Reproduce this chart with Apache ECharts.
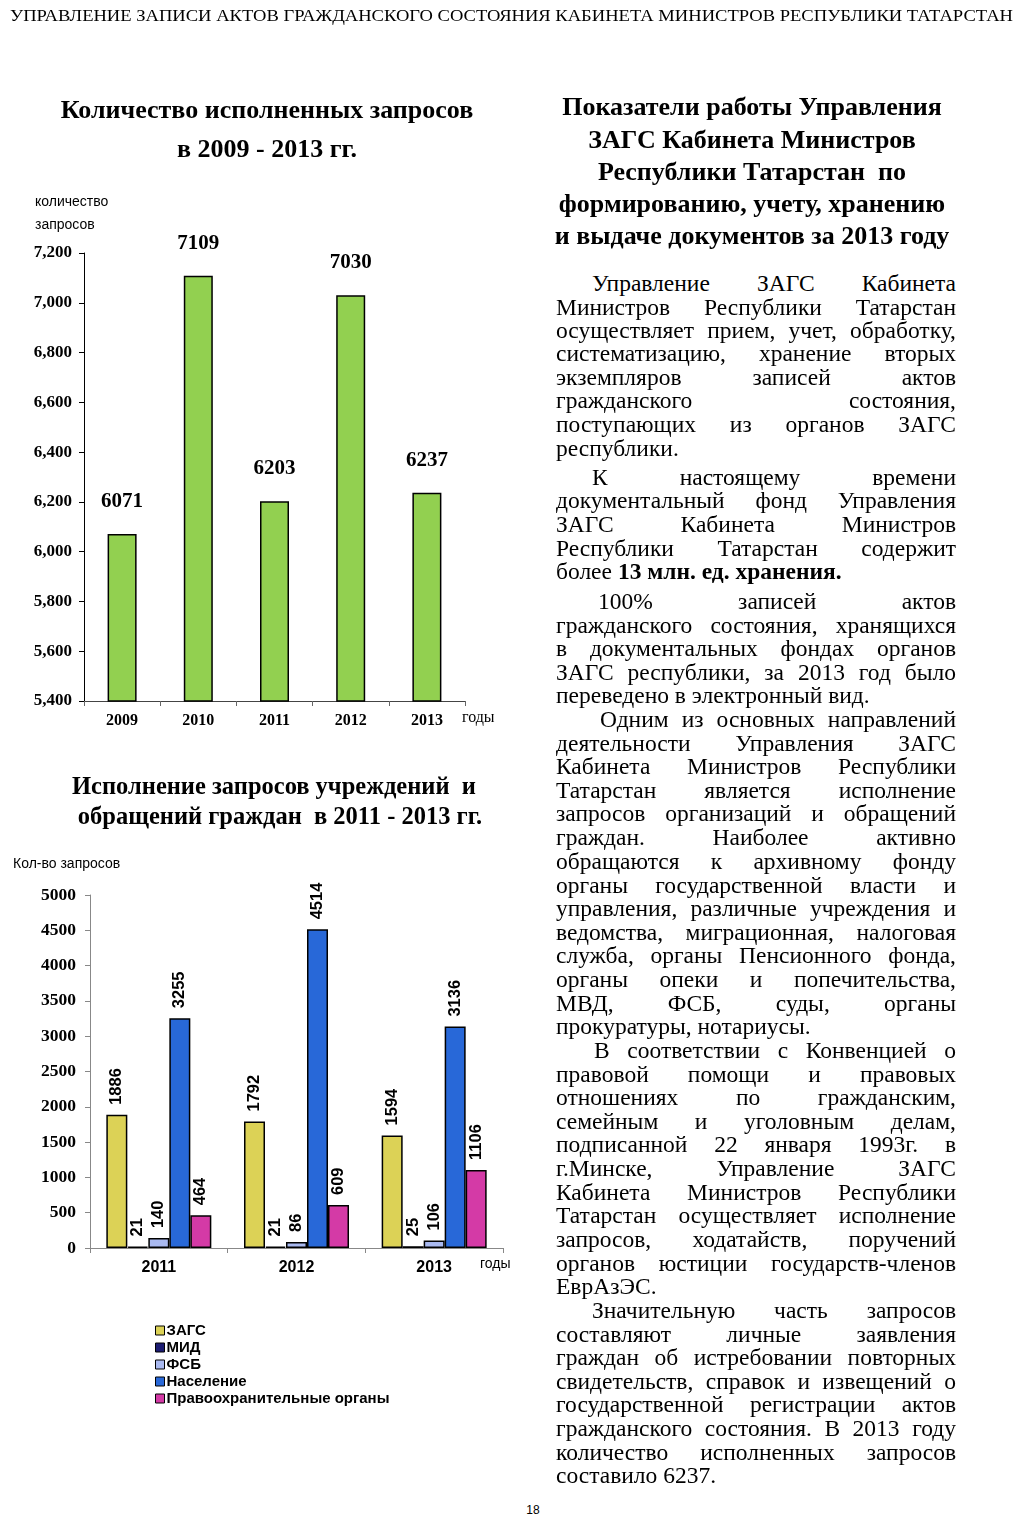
<!DOCTYPE html>
<html><head><meta charset="utf-8">
<script src="https://cdn.jsdelivr.net/npm/echarts@6.0.0/dist/echarts.min.js"></script>
<style>
html,body{margin:0;padding:0;background:#fff;}
body{width:1024px;height:1526px;position:relative;overflow:hidden;font-family:"Liberation Serif","Times New Roman",serif;color:#000;}
#chart{position:absolute;left:0;top:0;width:540px;height:1420px;}
.hd{position:absolute;width:600px;height:30px;line-height:30px;font-weight:bold;font-size:26px;text-align:center;white-space:nowrap;color:#000;}
.hd.s{font-size:24.5px;}
.ln{position:absolute;height:24px;line-height:24px;font-size:23.5px;white-space:nowrap;color:#000;}
#top{position:absolute;left:10px;top:5px;height:22px;line-height:22px;font-size:17px;white-space:nowrap;transform-origin:0 50%;color:#000;}
#pg{position:absolute;left:523px;top:1503px;width:20px;text-align:center;font-family:"Liberation Sans",Arial,sans-serif;font-size:12px;color:#000;}
</style></head>
<body>
<div id="chart"></div>
<div id="top">УПРАВЛЕНИЕ ЗАПИСИ АКТОВ ГРАЖДАНСКОГО СОСТОЯНИЯ КАБИНЕТА МИНИСТРОВ РЕСПУБЛИКИ ТАТАРСТАН</div>
<div id="pg">18</div>
<script>
// ---- chart data ----
const years1 = ['2009', '2010', '2011', '2012', '2013'];
const requests1 = [6071, 7109, 6203, 7030, 6237];

const years2 = ['2011', '2012', '2013'];
const zags = [1886, 1792, 1594];
const mid = [21, 21, 25];
const fsb = [140, 86, 106];
const population = [3255, 4514, 3136];
const lawEnf = [464, 609, 1106];
const seriesNames = ['ЗАГС', 'МИД', 'ФСБ', 'Население', 'Правоохранительные органы'];
const seriesColors = ['#DCD256', '#1C1C72', '#A9B9F0', '#2868D8', '#D43AA6'];

// ---- text ----
const headings = [
  [752, 107, 'Показатели работы Управления', ''],
  [752, 140, 'ЗАГС Кабинета Министров', ''],
  [752, 172, 'Республики Татарстан&nbsp; по', ''],
  [752, 204, 'формированию, учету, хранению', ''],
  [752, 236, 'и выдаче документов за 2013 году', ''],
  [267, 110, 'Количество исполненных запросов', ''],
  [267, 149, 'в 2009 - 2013 гг.', ''],
  [274, 786, 'Исполнение запросов учреждений&nbsp; и', 's'],
  [280, 816, 'обращений граждан&nbsp; в 2011 - 2013 гг.', 's']
];
const body = [
  [283, 'Управление ЗАГС Кабинета', 36, 1],
  [307, 'Министров Республики Татарстан', 0, 1],
  [330, 'осуществляет прием, учет, обработку,', 0, 1],
  [353, 'систематизацию, хранение вторых', 0, 1],
  [377, 'экземпляров записей актов', 0, 1],
  [400, 'гражданского состояния,', 0, 1],
  [424, 'поступающих из органов ЗАГС', 0, 1],
  [448, 'республики.', 0, 0],
  [477, 'К настоящему времени', 36, 1],
  [500, 'документальный фонд Управления', 0, 1],
  [524, 'ЗАГС Кабинета Министров', 0, 1],
  [548, 'Республики Татарстан содержит', 0, 1],
  [571, 'более <b>13 млн. ед. хранения.</b>', 0, 0],
  [601, '100% записей актов', 42, 1],
  [625, 'гражданского состояния, хранящихся', 0, 1],
  [648, 'в документальных фондах органов', 0, 1],
  [672, 'ЗАГС республики, за 2013 год было', 0, 1],
  [695, 'переведено в электронный вид.', 0, 0],
  [719, 'Одним из основных направлений', 44, 1],
  [743, 'деятельности Управления ЗАГС', 0, 1],
  [766, 'Кабинета Министров Республики', 0, 1],
  [790, 'Татарстан является исполнение', 0, 1],
  [813, 'запросов организаций и обращений', 0, 1],
  [837, 'граждан. Наиболее активно', 0, 1],
  [861, 'обращаются к архивному фонду', 0, 1],
  [885, 'органы государственной власти и', 0, 1],
  [908, 'управления, различные учреждения и', 0, 1],
  [932, 'ведомства, миграционная, налоговая', 0, 1],
  [955, 'служба, органы Пенсионного фонда,', 0, 1],
  [979, 'органы опеки и попечительства,', 0, 1],
  [1003, 'МВД, ФСБ, суды, органы', 0, 1],
  [1026, 'прокуратуры, нотариусы.', 0, 0],
  [1050, 'В соответствии с Конвенцией о', 38, 1],
  [1074, 'правовой помощи и правовых', 0, 1],
  [1097, 'отношениях по гражданским,', 0, 1],
  [1121, 'семейным и уголовным делам,', 0, 1],
  [1144, 'подписанной 22 января 1993г. в', 0, 1],
  [1168, 'г.Минске, Управление ЗАГС', 0, 1],
  [1192, 'Кабинета Министров Республики', 0, 1],
  [1215, 'Татарстан осуществляет исполнение', 0, 1],
  [1239, 'запросов, ходатайств, поручений', 0, 1],
  [1263, 'органов юстиции государств-членов', 0, 1],
  [1286, 'ЕврАзЭС.', 0, 0],
  [1310, 'Значительную часть запросов', 36, 1],
  [1334, 'составляют личные заявления', 0, 1],
  [1357, 'граждан об истребовании повторных', 0, 1],
  [1381, 'свидетельств, справок и извещений о', 0, 1],
  [1404, 'государственной регистрации актов', 0, 1],
  [1428, 'гражданского состояния. В 2013 году', 0, 1],
  [1452, 'количество исполненных запросов', 0, 1],
  [1475, 'составило 6237.', 0, 0]
];

headings.forEach(function (h) {
  const d = document.createElement('div');
  d.className = 'hd' + (h[3] ? ' ' + h[3] : '');
  d.style.left = (h[0] - 300) + 'px';
  d.style.top = (h[1] - 15) + 'px';
  d.innerHTML = h[2];
  document.body.appendChild(d);
});
const TL = 556, TW = 400;
body.forEach(function (b) {
  const d = document.createElement('div');
  d.className = 'ln';
  d.style.left = (TL + b[2]) + 'px';
  d.style.top = (b[0] - 12) + 'px';
  const s = document.createElement('span');
  s.innerHTML = b[1];
  d.appendChild(s);
  document.body.appendChild(d);
  if (b[3]) {
    const w = s.getBoundingClientRect().width;
    const n = (s.textContent.match(/ /g) || []).length;
    if (n > 0) s.style.wordSpacing = ((TW - b[2] - w) / n) + 'px';
  }
});
(function () {
  const t = document.getElementById('top');
  const w = t.getBoundingClientRect().width;
  t.style.transform = 'scaleX(' + (1003 / w) + ')';
})();

// ---- chart ----
const SERIF = '"Liberation Serif","Times New Roman",serif';
const SANS = '"Liberation Sans",Arial,sans-serif';
const chart = echarts.init(document.getElementById('chart'), null, {renderer: 'canvas'});

function barSeries(name, data, color) {
  return {
    name: name, type: 'bar', xAxisIndex: 1, yAxisIndex: 1, data: data,
    barWidth: 21, barGap: '0%',
    itemStyle: {color: color, borderColor: '#000', borderWidth: 1.5},
    label: {
      show: true, position: 'top', rotate: 90, align: 'left', verticalAlign: 'middle',
      distance: 10, fontFamily: SANS, fontWeight: 'bold', fontSize: 16.5, color: '#000'
    }
  };
}

const option = {
  animation: false,
  grid: [
    {left: 84, top: 253, width: 381, height: 448, outerBoundsMode: 'none'},
    {left: 90, top: 895, width: 413, height: 353, outerBoundsMode: 'none'}
  ],
  xAxis: [
    {
      gridIndex: 0, type: 'category', data: years1,
      axisLine: {show: true, lineStyle: {color: '#444', width: 1}},
      axisTick: {show: true, alignWithLabel: false, length: 5, lineStyle: {color: '#666'}},
      axisLabel: {fontFamily: SERIF, fontWeight: 'bold', fontSize: 16, color: '#000', margin: 12},
      splitLine: {show: false}
    },
    {
      gridIndex: 1, type: 'category', data: years2,
      axisLine: {show: true, lineStyle: {color: '#888', width: 1}},
      axisTick: {show: true, alignWithLabel: false, length: 5, lineStyle: {color: '#888'}},
      axisLabel: {fontFamily: SANS, fontWeight: 'bold', fontSize: 16, color: '#000', margin: 12},
      splitLine: {show: false}
    }
  ],
  yAxis: [
    {
      gridIndex: 0, type: 'value', min: 5400, max: 7200, interval: 200,
      axisLine: {show: true, lineStyle: {color: '#000', width: 1}},
      axisTick: {show: true, length: 5, lineStyle: {color: '#000'}},
      axisLabel: {
        fontFamily: SERIF, fontWeight: 'bold', fontSize: 17, color: '#000', margin: 12,
        formatter: function (v) { return v.toLocaleString('en-US'); }
      },
      splitLine: {show: false}
    },
    {
      gridIndex: 1, type: 'value', min: 0, max: 5000, interval: 500,
      axisLine: {show: true, lineStyle: {color: '#888', width: 1}},
      axisTick: {show: true, length: 5, lineStyle: {color: '#888'}},
      axisLabel: {
        fontFamily: SERIF, fontWeight: 'bold', fontSize: 17.5, color: '#000', margin: 14,
        formatter: function (v) { return String(v); }
      },
      splitLine: {show: false}
    }
  ],
  legend: {
    data: seriesNames, orient: 'vertical', left: 150, top: 1318,
    icon: 'rect', itemWidth: 9, itemHeight: 9, itemGap: 2,
    itemStyle: {borderColor: '#000', borderWidth: 1},
    textStyle: {fontFamily: SANS, fontWeight: 'bold', fontSize: 15, color: '#000', padding: [0, 0, 0, -3]}
  },
  graphic: [
    {type: 'text', left: 35, top: 195, style: {text: 'количество', font: '14px ' + SANS, fill: '#000'}},
    {type: 'text', left: 35, top: 218, style: {text: 'запросов', font: '14px ' + SANS, fill: '#000'}},
    {type: 'text', left: 462, top: 710, style: {text: 'годы', font: '16px ' + SERIF, fill: '#000'}},
    {type: 'text', left: 13, top: 857, style: {text: 'Кол-во запросов', font: '14px ' + SANS, fill: '#000'}},
    {type: 'text', left: 480, top: 1257, style: {text: 'годы', font: '14px ' + SANS, fill: '#000'}}
  ],
  series: [
    {
      name: 'Количество исполненных запросов', type: 'bar', xAxisIndex: 0, yAxisIndex: 0,
      data: requests1, barWidth: 29,
      itemStyle: {color: '#92D050', borderColor: '#000', borderWidth: 1.5},
      label: {show: true, position: 'top', distance: 22, fontFamily: SERIF, fontWeight: 'bold', fontSize: 21, color: '#000'}
    },
    barSeries(seriesNames[0], zags, seriesColors[0]),
    barSeries(seriesNames[1], mid, seriesColors[1]),
    barSeries(seriesNames[2], fsb, seriesColors[2]),
    barSeries(seriesNames[3], population, seriesColors[3]),
    barSeries(seriesNames[4], lawEnf, seriesColors[4])
  ]
};
chart.setOption(option);
</script>
</body></html>
